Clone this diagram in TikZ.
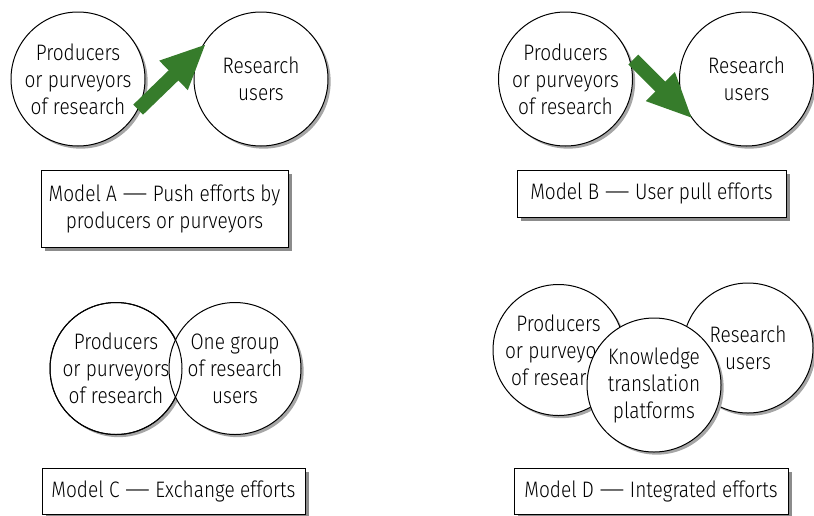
\documentclass[tikz,border=0pt]{standalone}
\usepackage{fontspec}
\usepackage{graphicx}
\setmainfont{Fira Sans}[UprightFont=* Light,FakeStretch=0.85]
\usetikzlibrary{arrows.meta,positioning,shadows}
\definecolor{pushgreen}{RGB}{54,124,43}
\newcommand{\longdash}{\scalebox{1.7}[1]{—}}

\begin{document}
\begin{tikzpicture}[x=0.75pt,y=-0.75pt,
    font=\fontsize{16.8pt}{20.25pt}\selectfont,
    group/.style={circle,draw,line width=0.75pt,fill=white,inner sep=0pt,
        minimum size=100.5pt,align=center,
        drop shadow={shadow xshift=2pt,shadow yshift=-2pt,fill=black!35,opacity=1}},
    caption/.style={rectangle,draw,line width=0.75pt,fill=white,inner sep=0pt,
        align=center,
        drop shadow={shadow xshift=3pt,shadow yshift=-3pt,fill=black!45,opacity=1}},
    effort/.style={draw=pushgreen,line width=10.5pt,
        -{Triangle[length=34pt,width=28pt,fill=pushgreen]}}]

    \useasboundingbox (0,0) rectangle (814,515);

    % Model A
    \node[group] (pA) at (78,79) {Producers\\or purveyors\\of research};
    \node[group] (uA) [right=36pt of pA] {Research\\users};
    \draw[effort,shorten >=-6pt] (pA.-27) -- (uA.154);
    \node[caption,minimum width=185.25pt,minimum height=57.75pt] (mA) at (164.5,208.5)
        {Model A \longdash{} Push efforts by\\producers or purveyors};

    % Model B
    \node[group] (pB) at (565.5,79) {Producers\\or purveyors\\of research};
    \node[group] (uB) [right=34.5pt of pB] {Research\\users};
    \draw[effort,shorten <=5pt,shorten >=-2pt] (pB.21) -- (uB.214);
    \node[caption,minimum width=201.75pt,minimum height=35.25pt] (mB) at (651.5,193.5)
        {Model B \longdash{} User pull efforts};

    % Model C
    \node[group,minimum size=99pt] (pC) at (116,368.5) {Producers\\or purveyors\\of research};
    \node[group,minimum size=99pt] (uC) [right=-10.5pt of pC] {One group\\of research\\users};
    \draw[line width=0.75pt] (pC.center) circle[radius=66];
    \node[caption,minimum width=197.25pt,minimum height=34.5pt] (mC) at (173.5,491)
        {Model C \longdash{} Exchange efforts};

    % Model D
    \node[group,minimum size=98.25pt] (pD) at (558.5,350) {Producers\\or purveyors\\of research};
    \node[group,minimum size=97.5pt] (uD) at (748,348) {Research\\users};
    \node[group] (kD) at (654,385) {Knowledge\\translation\\platforms};
    \node[caption,minimum width=205.5pt,minimum height=34.5pt] (mD) at (651,491)
        {Model D \longdash{} Integrated efforts};

\end{tikzpicture}
\end{document}
